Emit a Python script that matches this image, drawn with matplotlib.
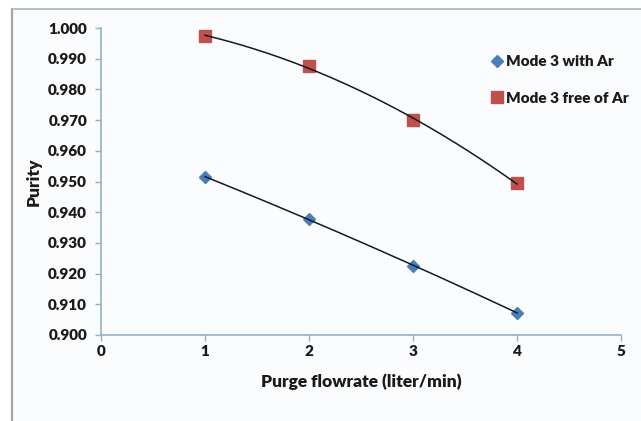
import numpy as np
import matplotlib
matplotlib.use("Agg")
import matplotlib.pyplot as plt
from matplotlib.patches import Rectangle
from matplotlib.lines import Line2D

flowrate = [1, 2, 3, 4]
with_ar = [0.9515, 0.9378, 0.9225, 0.9073]
free_ar = [0.9974, 0.9875, 0.9700, 0.9494]
labels = ["Mode 3 with Ar", "Mode 3 free of Ar"]
xticks = [0, 1, 2, 3, 4, 5]
yticks = [0.900, 0.910, 0.920, 0.930, 0.940, 0.950, 0.960, 0.970, 0.980, 0.990, 1.000]

plt.rcParams['font.family'] = ['Lato', 'DejaVu Sans']
plt.rcParams['font.weight'] = 'bold'

W, H = 641, 421
fig = plt.figure(figsize=(W/100, H/100), dpi=100, facecolor='white')

# outer chart area frame
bg = '#fbfcfe'
fig.patches.append(Rectangle((12/W, 0), 1 - 12/W, 1 - 9/H, transform=fig.transFigure,
                             facecolor=bg, edgecolor='none', zorder=-2))
fig.lines.append(Line2D([12/W, 12/W], [0, 1 - 9/H], transform=fig.transFigure,
                        color='#a0a8ae', lw=1.6, zorder=-1))
fig.lines.append(Line2D([12/W, 1], [1 - 9/H, 1 - 9/H], transform=fig.transFigure,
                        color='#a8b4bc', lw=1.2, zorder=-1))

ax = fig.add_axes([101/W, (H-335)/H, 520/W, 307/H])
ax.set_facecolor(bg)
ax.patch.set_alpha(0)

blue = '#4a7ebb'
red = '#c0504d'
x = np.array(flowrate, dtype=float)
xs = np.linspace(x.min(), x.max(), 200)
for ys in (with_ar, free_ar):
    c = np.polyfit(x, ys, 2)
    ax.plot(xs, np.polyval(c, xs), color='#141a1e', lw=1.1, zorder=3)

ax.plot(flowrate, with_ar, 'D', color=blue, ms=6.5, mec=blue, label=labels[0], zorder=2)
ax.plot(flowrate, free_ar, 's', color=red, ms=8, mec=red, label=labels[1], zorder=2)

ax.set_xlim(0, 5)
ax.set_ylim(0.9, 1.0)
ax.set_xticks(xticks)
ax.set_yticks(yticks)
ax.set_yticklabels([f"{v:.3f}" for v in yticks])
for s in ['top', 'right']:
    ax.spines[s].set_visible(False)
spc = '#8fb3c6'
for s in ['left', 'bottom']:
    ax.spines[s].set_color(spc)
    ax.spines[s].set_linewidth(1.2)
ax.tick_params(axis='both', direction='out', length=4, width=1, color=spc,
               labelsize=11, labelcolor='#1a1a1a')
ax.tick_params(axis='y', pad=6)
ax.tick_params(axis='x', pad=3)
for t in ax.get_xticklabels() + ax.get_yticklabels():
    t.set_fontweight('heavy')

ax.set_xlabel("Purge flowrate (liter/min)", fontsize=12.5, fontweight='heavy', color='#1a1a1a', labelpad=11)
ax.set_ylabel("Purity", fontsize=12.5, fontweight='heavy', color='#1a1a1a', labelpad=5)

leg = ax.legend(loc='upper left', bbox_to_anchor=(492/W, (H-55)/H), bbox_transform=fig.transFigure,
                frameon=False, fontsize=11, handlelength=0.6, handletextpad=0.3,
                labelspacing=1.55, borderaxespad=0, borderpad=0)
for t in leg.get_texts():
    t.set_fontweight('heavy')
    t.set_color('#1a1a1a')

fig.savefig("out.png", dpi=100, facecolor='white')
